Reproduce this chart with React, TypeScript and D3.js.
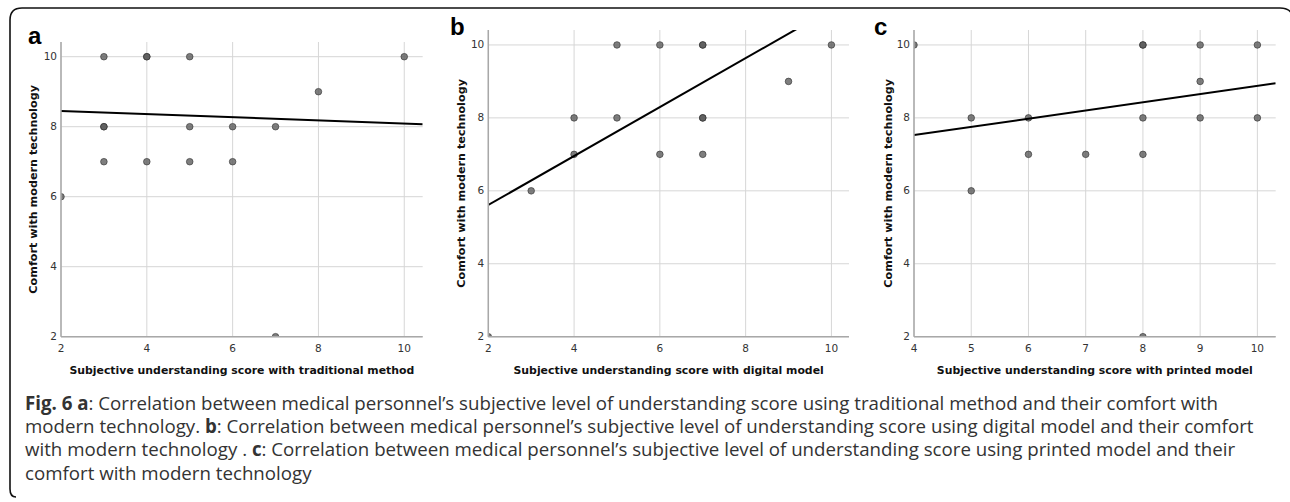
import React from "react";
import * as d3 from "d3";

// ---------- data ----------
const panelLetters = ["a", "b", "c"];
const yTitle = "Comfort with modern technology";
const xTitles = [
  "Subjective understanding score with traditional method",
  "Subjective understanding score with digital model",
  "Subjective understanding score with printed model",
];

// panel a: traditional method
const traditionalX = [3, 4, 4, 5, 10, 8, 3, 3, 5, 6, 7, 3, 4, 5, 6, 2, 7];
const traditionalY = [10, 10, 10, 10, 10, 9, 8, 8, 8, 8, 8, 7, 7, 7, 7, 6, 2];
// panel b: digital model
const digitalX = [5, 6, 7, 7, 10, 9, 4, 5, 7, 7, 4, 6, 7, 3, 2];
const digitalY = [10, 10, 10, 10, 10, 9, 8, 8, 8, 8, 7, 7, 7, 6, 2];
// panel c: printed model
const printedX = [4, 8, 8, 9, 10, 9, 5, 6, 8, 9, 10, 6, 7, 8, 5, 8];
const printedY = [10, 10, 10, 10, 10, 9, 8, 8, 8, 8, 8, 7, 7, 7, 6, 2];

// fit lines: [intercept, slope]
const fitTraditional = [8.54, -0.045];
const fitDigital = [4.27, 0.671];
const fitPrinted = [6.63, 0.2247];

const xTicksA = [2, 4, 6, 8, 10];
const xTicksB = [2, 4, 6, 8, 10];
const xTicksC = [4, 5, 6, 7, 8, 9, 10];
const yTicks = [2, 4, 6, 8, 10];

const captionLines = [
  [["Fig. 6 a", true], [": Correlation between medical personnel’s subjective level of understanding score using traditional method and their comfort with", false]],
  [["modern technology. ", false], ["b", true], [": Correlation between medical personnel’s subjective level of understanding score using digital model and their comfort", false]],
  [["with modern technology . ", false], ["c", true], [": Correlation between medical personnel’s subjective level of understanding score using printed model and their", false]],
  [["comfort with modern technology", false]],
];

// ---------- layout ----------
const panels = [
  { xs: traditionalX, ys: traditionalY, fit: fitTraditional, xTicks: xTicksA, xDom: [2, 10.43], yDom: [2, 10.42], left: 61, right: 422.7, top: 42, bottom: 336.7, letterX: 28, letterY: 44, yTitleX: 37 },
  { xs: digitalX, ys: digitalY, fit: fitDigital, xTicks: xTicksB, xDom: [2, 10.41], yDom: [2, 10.41], left: 488.3, right: 849, top: 30, bottom: 336.7, letterX: 450, letterY: 35, yTitleX: 465 },
  { xs: printedX, ys: printedY, fit: fitPrinted, xTicks: xTicksC, xDom: [4, 10.32], yDom: [2, 10.41], left: 914, right: 1275.7, top: 30, bottom: 336.7, letterX: 874, letterY: 35, yTitleX: 892 },
];

const chartFont = "'DejaVu Sans', Verdana, sans-serif";

function Panel({ p, i }: { p: any; i: number }) {
  const x = d3.scaleLinear().domain(p.xDom).range([p.left, p.right]);
  const y = d3.scaleLinear().domain(p.yDom).range([p.bottom, p.top]);
  const clipId = `clip-${i}`;
  const line = d3
    .line<number>()
    .x((d) => x(d))
    .y((d) => y(p.fit[0] + p.fit[1] * d));
  const cx = (p.left + p.right) / 2;
  const cy = (p.top + p.bottom) / 2;
  return (
    <g>
      <defs>
        <clipPath id={clipId}>
          <rect x={p.left} y={p.top} width={p.right - p.left} height={p.bottom - p.top} />
        </clipPath>
      </defs>
      {p.xTicks.map((t: number) => (
        <line key={"gx" + t} x1={x(t)} x2={x(t)} y1={p.top} y2={p.bottom} stroke="#d6d6d6" strokeWidth={1} />
      ))}
      {yTicks.map((t) => (
        <line key={"gy" + t} x1={p.left} x2={p.right} y1={y(t)} y2={y(t)} stroke="#d6d6d6" strokeWidth={1} />
      ))}
      <g clipPath={`url(#${clipId})`}>
        {p.xs.map((xv: number, k: number) => (
          <circle key={k} cx={x(xv)} cy={y(p.ys[k])} r={3.3} fill="#5a5a5a" fillOpacity={0.78} stroke="#333" strokeOpacity={0.8} strokeWidth={0.8} />
        ))}
        <path d={line(p.xDom) || ""} stroke="#000" strokeWidth={2} fill="none" />
      </g>
      <line x1={p.left} x2={p.left} y1={p.top} y2={p.bottom} stroke="#a8a8a8" strokeWidth={1.5} />
      <line x1={p.left} x2={p.right} y1={p.bottom} y2={p.bottom} stroke="#a8a8a8" strokeWidth={1.5} />
      {yTicks.map((t) => (
        <text key={"ly" + t} x={p.left - 4} y={y(t) + 3.5} textAnchor="end" fontSize={10.5} fontFamily={chartFont} fill="#333">
          {t}
        </text>
      ))}
      {p.xTicks.map((t: number) => (
        <text key={"lx" + t} x={x(t)} y={p.bottom + 15} textAnchor="middle" fontSize={10.5} fontFamily={chartFont} fill="#333">
          {t}
        </text>
      ))}
      <text x={cx} y={374} textAnchor="middle" fontSize={10.9} fontWeight="bold" fontFamily={chartFont} fill="#111">
        {xTitles[i]}
      </text>
      <text transform={`translate(${p.yTitleX},${cy}) rotate(-90)`} textAnchor="middle" fontSize={11.2} fontWeight="bold" fontFamily={chartFont} fill="#111">
        {yTitle}
      </text>
      <text x={p.letterX} y={p.letterY} fontSize={24} fontWeight="bold" fontFamily="'Liberation Sans', Arial, sans-serif" fill="#000">
        {panelLetters[i]}
      </text>
    </g>
  );
}

export default function App() {
  return (
    <svg width={1290} height={502} style={{ position: "absolute", left: 0, top: 0, background: "#fff" }}>
      <path d="M16,497 Q10,497 10,489 L10,20 Q10,8 22,8 L1280,8 Q1289,8 1292,14" fill="none" stroke="#111" strokeWidth={1.6} />
      {panels.map((p, i) => (
        <Panel key={i} p={p} i={i} />
      ))}
      {captionLines.map((ln, li) => (
        <text key={li} x={25} y={410 + li * 23.2} fontSize={18.7} fontFamily="'Open Sans', Lato, sans-serif" fill="#333">
          {ln.map((seg: any, si: number) => (
            <tspan key={si} fontWeight={seg[1] ? "bold" : "normal"}>
              {seg[0]}
            </tspan>
          ))}
        </text>
      ))}
    </svg>
  );
}
